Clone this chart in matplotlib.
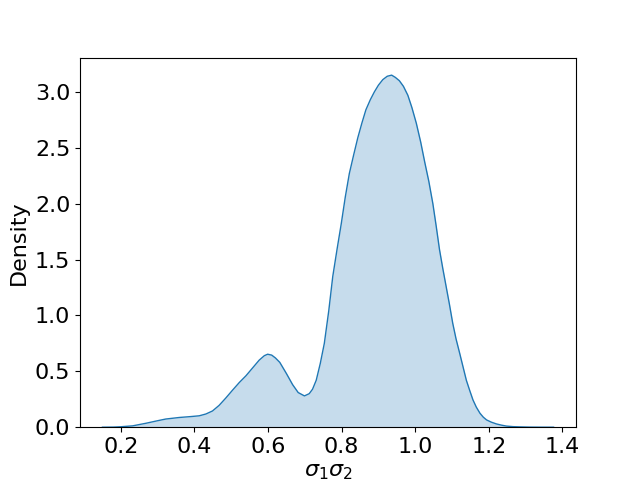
import matplotlib
matplotlib.use("Agg")
import matplotlib.pyplot as plt
import numpy as np

# KDE curve (x = sigma1*sigma2, y = density)
x_vals = [0.150, 0.180, 0.200, 0.232, 0.268, 0.300, 0.322, 0.359, 0.390, 0.413,
          0.431, 0.449, 0.467, 0.485, 0.504, 0.522, 0.540, 0.558, 0.576, 0.590,
          0.599, 0.610, 0.620, 0.632, 0.650, 0.667, 0.682, 0.699, 0.712, 0.721,
          0.731, 0.742, 0.753, 0.765, 0.776, 0.788, 0.799, 0.810, 0.821, 0.833,
          0.844, 0.855, 0.866, 0.878, 0.889, 0.900, 0.912, 0.924, 0.936, 0.946,
          0.957, 0.968, 0.980, 0.991, 1.003, 1.015, 1.026, 1.037, 1.048, 1.057,
          1.066, 1.075, 1.084, 1.093, 1.102, 1.111, 1.121, 1.130, 1.139, 1.148,
          1.157, 1.166, 1.176, 1.185, 1.194, 1.207, 1.221, 1.235, 1.248, 1.266,
          1.284, 1.310, 1.340, 1.376]
density = [0.000, 0.001, 0.004, 0.012, 0.035, 0.058, 0.073, 0.087, 0.095, 0.102,
           0.118, 0.145, 0.195, 0.260, 0.333, 0.400, 0.460, 0.530, 0.600, 0.640,
           0.653, 0.645, 0.620, 0.580, 0.480, 0.380, 0.310, 0.280, 0.300, 0.340,
           0.420, 0.570, 0.750, 1.040, 1.350, 1.600, 1.820, 2.060, 2.270, 2.440,
           2.590, 2.720, 2.840, 2.930, 3.000, 3.060, 3.110, 3.140, 3.150, 3.130,
           3.100, 3.050, 2.970, 2.860, 2.720, 2.550, 2.370, 2.200, 2.000, 1.800,
           1.590, 1.420, 1.260, 1.100, 0.930, 0.790, 0.660, 0.540, 0.420, 0.330,
           0.244, 0.180, 0.125, 0.090, 0.065, 0.045, 0.029, 0.018, 0.010, 0.005,
           0.003, 0.001, 0.0003, 0.000]

x_label = r"$\sigma_1\sigma_2$"
y_label = "Density"
x_ticks = [0.2, 0.4, 0.6, 0.8, 1.0, 1.2, 1.4]
y_ticks = [0.0, 0.5, 1.0, 1.5, 2.0, 2.5, 3.0]

fig, ax = plt.subplots(figsize=(6.4, 4.8), dpi=100)
color = "#1f77b4"
ax.fill_between(x_vals, density, 0, color=color, alpha=0.25, linewidth=0)
ax.plot(x_vals, density, color=color, linewidth=1.0)

ax.set_xlim(0.089, 1.437)
ax.set_ylim(0, 3.307)
ax.set_xticks(x_ticks)
ax.set_yticks(y_ticks)
ax.set_xticklabels([f"{t:.1f}" for t in x_ticks])
ax.set_yticklabels([f"{t:.1f}" for t in y_ticks])
ax.tick_params(labelsize=16)
ax.set_xlabel(x_label, fontsize=16)
ax.set_ylabel(y_label, fontsize=16)

fig.savefig("out.png", dpi=100)
